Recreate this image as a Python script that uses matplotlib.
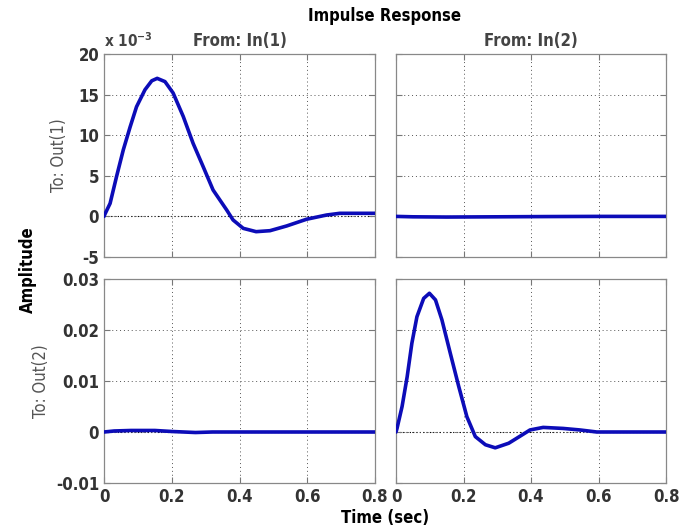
import numpy as np
import matplotlib
matplotlib.use("Agg")
import matplotlib.pyplot as plt

plt.rcParams["font.family"] = ["DejaVu Sans"]
plt.rcParams["font.stretch"] = "condensed"
plt.rcParams["font.weight"] = "bold"

# Out(1) <- In(1), values in units of 1e-3
t11 = [0.0, 0.003, 0.018, 0.037, 0.057, 0.077, 0.096, 0.121, 0.141, 0.157, 0.180,
       0.204, 0.234, 0.263, 0.293, 0.322, 0.362, 0.381, 0.411, 0.449, 0.49, 0.539,
       0.598, 0.657, 0.696, 0.75, 0.8]
y11 = [0.0, 0.3, 1.6, 4.9, 8.2, 11.0, 13.5, 15.6, 16.7, 17.0, 16.6,
       15.2, 12.3, 9.0, 6.1, 3.25, 0.8, -0.44, -1.47, -1.88, -1.76, -1.18,
       -0.35, 0.17, 0.38, 0.38, 0.38]

# Out(1) <- In(2), values in units of 1e-3
t12 = [0.0, 0.05, 0.15, 0.3, 0.45, 0.6, 0.8]
y12 = [0.0, -0.05, -0.08, -0.05, -0.02, 0.0, 0.0]

# Out(2) <- In(1)
t21 = [0.0, 0.03, 0.08, 0.15, 0.2, 0.27, 0.32, 0.45, 0.6, 0.8]
y21 = [0.0, 0.0002, 0.0003, 0.0003, 0.0001, -0.0001, 0.0, 0.0, 0.0, 0.0]

# Out(2) <- In(2)
t22 = [0.0, 0.003, 0.018, 0.033, 0.047, 0.062, 0.082, 0.099, 0.117, 0.136, 0.161,
       0.186, 0.210, 0.235, 0.265, 0.294, 0.334, 0.373, 0.397, 0.436, 0.495, 0.545,
       0.595, 0.7, 0.8]
y22 = [0.0, 0.0007, 0.005, 0.0108, 0.0174, 0.0226, 0.0262, 0.0272, 0.0259, 0.022, 0.0154,
       0.0089, 0.003, -0.0009, -0.0025, -0.0031, -0.0022, -0.0006, 0.0004, 0.0009, 0.0007, 0.0004,
       0.0, 0.0, 0.0]

xticks = [0, 0.2, 0.4, 0.6, 0.8]
xticklabels = ["0", "0.2", "0.4", "0.6", "0.8"]
top_yticks = [-5, 0, 5, 10, 15, 20]
bot_yticks = [-0.01, 0, 0.01, 0.02, 0.03]
bot_yticklabels = ["-0.01", "0", "0.01", "0.02", "0.03"]

line_color = "#0c0cb8"

fig = plt.figure(figsize=(6.91, 5.29), dpi=100)
W, H = 691, 529


def add_ax(x0, y0, x1, y1):
    return fig.add_axes([x0 / W, 1 - y1 / H, (x1 - x0) / W, (y1 - y0) / H])


ax11 = add_ax(104, 54, 375, 257)
ax12 = add_ax(396, 54, 666, 257)
ax21 = add_ax(104, 279, 375, 483)
ax22 = add_ax(396, 279, 666, 483)

panels = [
    (ax11, t11, y11, (-5, 20), top_yticks),
    (ax12, t12, y12, (-5, 20), top_yticks),
    (ax21, t21, y21, (-0.01, 0.03), bot_yticks),
    (ax22, t22, y22, (-0.01, 0.03), bot_yticks),
]

for ax, t, y, ylim, yt in panels:
    ax.axhline(0, color="black", linestyle=(0, (1, 2)), linewidth=0.8, zorder=1)
    ax.plot(t, y, color=line_color, linewidth=2.6, zorder=3,
            solid_joinstyle="round", solid_capstyle="round")
    ax.set_xlim(0, 0.8)
    ax.set_ylim(*ylim)
    ax.set_xticks(xticks)
    ax.set_yticks(yt)
    ax.grid(True, color="#555555", linestyle=(0, (1, 3)), linewidth=0.7)
    ax.tick_params(direction="in", top=True, right=True, length=4,
                   color="#777777", labelsize=12, width=0.8)
    for s in ax.spines.values():
        s.set_color("#888888")
        s.set_linewidth(0.9)

ax11.set_xticklabels([])
ax12.set_xticklabels([])
ax12.set_yticklabels([])
ax22.set_yticklabels([])
ax11.set_yticklabels([str(v) for v in top_yticks])
ax21.set_yticklabels(bot_yticklabels)
ax21.set_xticklabels(xticklabels)
ax22.set_xticklabels(xticklabels)

for ax in (ax11, ax12, ax21, ax22):
    for lab in ax.get_xticklabels() + ax.get_yticklabels():
        lab.set_color("#333333")
        lab.set_fontweight("bold")

ax11.set_title("From: In(1)", fontsize=12, fontweight="bold", color="#444444", pad=6)
ax12.set_title("From: In(2)", fontsize=12, fontweight="bold", color="#444444", pad=6)
ax11.set_ylabel("To: Out(1)", fontsize=12, fontweight="normal", color="#555555")
ax21.set_ylabel("To: Out(2)", fontsize=12, fontweight="normal", color="#555555")
ax11.yaxis.set_label_coords((68 - 104) / 271, 0.5)
ax21.yaxis.set_label_coords((50 - 104) / 271, 0.5)
ax11.text(0.0, 1.02, r"x 10$^{-3}$", transform=ax11.transAxes, fontsize=11,
          fontweight="bold", color="#444444", ha="left", va="bottom")

fig.text(385 / W, 1 - 16 / H, "Impulse Response", fontsize=12, fontweight="bold",
         ha="center", va="center")
fig.text(385 / W, 1 - 518 / H, "Time (sec)", fontsize=12, fontweight="bold",
         ha="center", va="center")
fig.text(28 / W, 1 - 270 / H, "Amplitude", fontsize=12, fontweight="bold",
         ha="center", va="center", rotation=90)

fig.savefig("out.png", dpi=100)
